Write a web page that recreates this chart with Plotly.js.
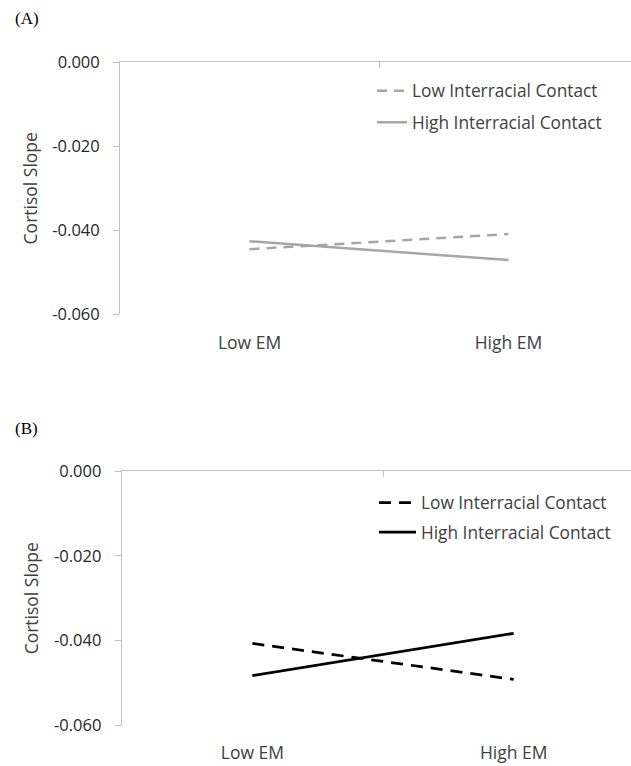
<!DOCTYPE html>
<html>
<head>
<meta charset="utf-8">
<script src="https://cdn.plot.ly/plotly-3.0.1.min.js"></script>
<style>html,body{margin:0;padding:0;background:#fff;}#chart{width:631px;height:766px;}</style>
</head>
<body>
<div id="chart"></div>
<script>
// ---- data ----
const categories = ["Low EM", "High EM"];
const seriesNames = ["Low Interracial Contact", "High Interracial Contact"];
const panelA_low = [-0.0445, -0.0409];
const panelA_high = [-0.0426, -0.0471];
const panelB_low = [-0.0407, -0.0492];
const panelB_high = [-0.0483, -0.0383];
const yTickVals = [0, -0.02, -0.04, -0.06];
const yTickText = ["0.000", "-0.020", "-0.040", "-0.060"];
const panelLabels = ["(A)", "(B)"];
const yTitle = "Cortisol Slope";

const FONT = "Open Sans, sans-serif";
const TXT = "#404040";
const AX = "#bfbfbf";
const grayLine = "#a6a6a6";

const traces = [
  {x: categories, y: panelA_low, name: seriesNames[0], type: "scatter", mode: "lines",
   line: {color: grayLine, width: 2.5, dash: "10px,7px"}, xaxis: "x", yaxis: "y", legend: "legend", legendgroup: "a1", hoverinfo: "skip"},
  {x: categories, y: panelA_high, name: seriesNames[1], type: "scatter", mode: "lines",
   line: {color: grayLine, width: 2.5}, xaxis: "x", yaxis: "y", legend: "legend", legendgroup: "a2", hoverinfo: "skip"},
  {x: categories, y: panelB_low, name: seriesNames[0], type: "scatter", mode: "lines",
   line: {color: "#000000", width: 2.75, dash: "12px,8px"}, xaxis: "x2", yaxis: "y2", legend: "legend2", legendgroup: "b1", hoverinfo: "skip"},
  {x: categories, y: panelB_high, name: seriesNames[1], type: "scatter", mode: "lines",
   line: {color: "#000000", width: 2.75}, xaxis: "x2", yaxis: "y2", legend: "legend2", legendgroup: "b2", hoverinfo: "skip"},
  // empty traces to host the top boundary axes
  {x: [], y: [], xaxis: "x3", yaxis: "y", showlegend: false, hoverinfo: "skip"},
  {x: [], y: [], xaxis: "x4", yaxis: "y2", showlegend: false, hoverinfo: "skip"}
];

function xCat(domainStart, rEnd, standoff) {
  return {domain: [domainStart, 1], type: "category", range: [-0.5, rEnd], showline: false, showgrid: false,
    zeroline: false, ticks: "", tickfont: {family: FONT, size: 17.5, color: TXT}, ticklabelstandoff: standoff, fixedrange: true};
}
function xTop(domainStart, rEnd, overlay, anchor) {
  return {domain: [domainStart, 1], overlaying: overlay, anchor: anchor, side: "top", type: "linear", range: [-0.5, rEnd],
    showline: true, linecolor: AX, linewidth: 1, ticks: "inside", ticklen: 6, tickcolor: AX, tickvals: [0.5],
    showticklabels: false, showgrid: false, zeroline: false, fixedrange: true};
}
function yAx(domain) {
  return {domain: domain, range: [-0.06, 0], tickvals: yTickVals, ticktext: yTickText, showline: true, linecolor: AX, linewidth: 1,
    ticks: "outside", ticklen: 6, tickcolor: AX, showgrid: false, zeroline: false, ticklabelstandoff: 10,
    tickfont: {family: FONT, size: 16.5, color: "#262626"}, fixedrange: true,
    title: {text: yTitle, font: {family: FONT, size: 17.5, color: TXT}, standoff: 10}};
}

const layout = {
  width: 631, height: 766,
  margin: {l: 0, r: 0, t: 0, b: 0},
  paper_bgcolor: "#ffffff", plot_bgcolor: "#ffffff",
  showlegend: true,
  xaxis: xCat(0.1902, 1.473, 16),
  xaxis2: Object.assign(xCat(0.1929, 1.449, 15), {anchor: "y2"}),
  xaxis3: xTop(0.1902, 1.473, "x", "y"),
  xaxis4: xTop(0.1929, 1.449, "x2", "y2"),
  yaxis: Object.assign(yAx([0.5897, 0.9187]), {anchor: "x"}),
  yaxis2: Object.assign(yAx([0.0535, 0.3845]), {anchor: "x2"}),
  legend: {x: 372 / 631, y: 1 - 73 / 766, xanchor: "left", yanchor: "top", bgcolor: "rgba(0,0,0,0)",
    font: {family: FONT, size: 17.3, color: TXT}, traceorder: "grouped", tracegroupgap: 6, itemwidth: 30},
  legend2: {x: 374 / 631, y: 1 - 485 / 766, xanchor: "left", yanchor: "top", bgcolor: "rgba(0,0,0,0)",
    font: {family: FONT, size: 17.3, color: TXT}, traceorder: "grouped", tracegroupgap: 4, itemwidth: 37},
  annotations: [
    {text: panelLabels[0], xref: "paper", yref: "paper", x: 13 / 631, y: 1 - 18 / 766, xanchor: "left", yanchor: "middle",
     showarrow: false, font: {family: "Liberation Serif, Times New Roman, serif", size: 17, color: "#000"}},
    {text: panelLabels[1], xref: "paper", yref: "paper", x: 13 / 631, y: 1 - 428 / 766, xanchor: "left", yanchor: "middle",
     showarrow: false, font: {family: "Liberation Serif, Times New Roman, serif", size: 17, color: "#000"}}
  ]
};

Plotly.newPlot("chart", traces, layout, {displayModeBar: false, staticPlot: true});
</script>
</body>
</html>
